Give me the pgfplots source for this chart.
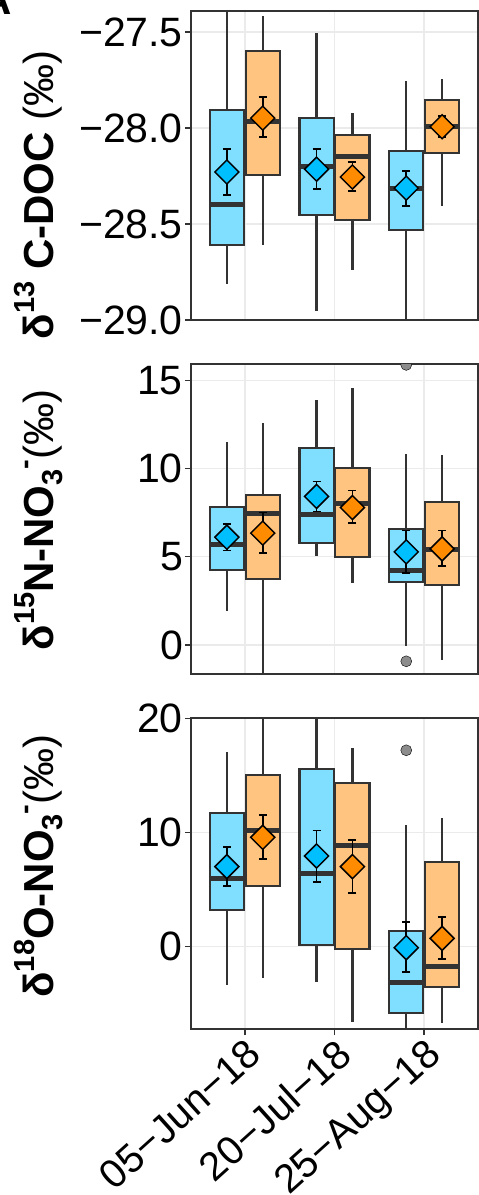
\documentclass[border=0pt]{standalone}
\usepackage{fontspec}
\setmainfont{Liberation Sans}
\usepackage{pgfplots}
\pgfplotsset{compat=1.18}
\usepgfplotslibrary{statistics}
\definecolor{boxgray}{HTML}{333333}
\definecolor{bluefill}{HTML}{80DFFF}
\definecolor{orangefill}{HTML}{FFC580}
\definecolor{bluemean}{HTML}{00BFFF}
\definecolor{orangemean}{HTML}{FF8C00}
\definecolor{gridc}{HTML}{EBEBEB}
\definecolor{outc}{HTML}{8C8C8C}
\newcommand{\sups}[1]{\raisebox{0.45em}{\fontsize{29}{30}\selectfont #1}}
\newcommand{\subs}[1]{\raisebox{-0.22em}{\fontsize{29}{30}\selectfont #1}}
\pgfplotsset{
  panel/.style={
    scale only axis, width=287pt, height=309pt,
    xmin=0.4, xmax=3.6, xtick={1,2,3},
    grid=major, major grid style={gridc, line width=1.4pt},
    axis line style={boxgray, line width=1.4pt},
    tick align=outside, tick pos=left,
    major tick length=6pt,
    tick style={boxgray, line width=1.4pt},
    ticklabel style={font=\fontsize{41}{44}\selectfont, text=black},
    yticklabel style={inner sep=2pt},
    clip marker paths=true,
    anchor=north west,
    boxplot/draw direction=y,
  },
  bb/.style={draw=boxgray, fill=bluefill, line width=2.2pt, solid, mark=none, boxplot/every median/.style={line width=5pt}},
  ob/.style={draw=boxgray, fill=orangefill, line width=2.2pt, solid, mark=none, boxplot/every median/.style={line width=5pt}},
  bm/.style={only marks, mark=square*, mark size=8.5pt, mark options={rotate=45, fill=bluemean, draw=black, line width=1.5pt},
    error bars/.cd, y dir=both, y explicit, error bar style={black, line width=1.8pt}, error mark=-, error mark options={rotate=90, black, line width=1.8pt, mark size=4pt}},
  om/.style={only marks, mark=square*, mark size=8.5pt, mark options={rotate=45, fill=orangemean, draw=black, line width=1.5pt},
    error bars/.cd, y dir=both, y explicit, error bar style={black, line width=1.8pt}, error mark=-, error mark options={rotate=90, black, line width=1.8pt, mark size=4pt}},
  outl/.style={only marks, mark=*, mark size=5.5pt, mark options={fill=outc, draw=none}},
}
\begin{document}
\begin{tikzpicture}
\useasboundingbox (0pt,0pt) rectangle (479pt,-1195pt);
\node[anchor=base east, inner sep=0pt, font=\bfseries\fontsize{42}{44}\selectfont] at (12.5pt,-14pt) {A};

% ---------- Panel 1: d13C-DOC ----------
\begin{axis}[panel, at={(191pt,-11pt)}, ymin=-29.0, ymax=-27.39,
  ytick={-29,-28.5,-28,-27.5}, yticklabels={−29.0,−28.5,−28.0,−27.5},
  xmajorticks=false, xticklabels={}]
\addplot[bb, boxplot prepared={draw position=0.8, lower whisker=-28.81, lower quartile=-28.608, median=-28.396, upper quartile=-27.905, upper whisker=-27.2, box extend=0.38, whisker extend=0}] coordinates {};
\addplot[ob, boxplot prepared={draw position=1.2, lower whisker=-28.608, lower quartile=-28.245, median=-27.964, upper quartile=-27.597, upper whisker=-27.417, box extend=0.38, whisker extend=0}] coordinates {};
\addplot[bb, boxplot prepared={draw position=1.8, lower whisker=-28.953, lower quartile=-28.453, median=-28.198, upper quartile=-27.948, upper whisker=-27.505, box extend=0.38, whisker extend=0}] coordinates {};
\addplot[ob, boxplot prepared={draw position=2.2, lower whisker=-28.74, lower quartile=-28.478, median=-28.146, upper quartile=-28.035, upper whisker=-27.922, box extend=0.38, whisker extend=0}] coordinates {};
\addplot[bb, boxplot prepared={draw position=2.8, lower whisker=-29.1, lower quartile=-28.531, median=-28.316, upper quartile=-28.118, upper whisker=-27.755, box extend=0.38, whisker extend=0}] coordinates {};
\addplot[ob, boxplot prepared={draw position=3.2, lower whisker=-28.406, lower quartile=-28.128, median=-27.993, upper quartile=-27.853, upper whisker=-27.745, box extend=0.38, whisker extend=0}] coordinates {};
\addplot[bm] coordinates {(0.8,-28.229) += (0,0.120) -= (0,0.120) (1.8,-28.214) += (0,0.105) -= (0,0.104) (2.8,-28.313) += (0,0.089) -= (0,0.093)};
\addplot[om] coordinates {(1.2,-27.948) += (0,0.109) -= (0,0.099) (2.2,-28.255) += (0,0.078) -= (0,0.073) (3.2,-27.993) += (0,0.056) -= (0,0.054)};
\end{axis}
\node[rotate=90, anchor=base, inner sep=0pt, font=\fontsize{42}{44}\selectfont] at (53pt,-195pt) {\textbf{δ\sups{13} C-DOC} (‰)};

% ---------- Panel 2: d15N-NO3 ----------
\begin{axis}[panel, at={(191pt,-364pt)}, height=310pt, ymin=-1.64, ymax=15.92,
  ytick={0,5,10,15}, yticklabels={0,5,10,15},
  xmajorticks=false, xticklabels={}]
\addplot[bb, boxplot prepared={draw position=0.8, lower whisker=1.91, lower quartile=4.26, median=5.68, upper quartile=7.81, upper whisker=11.49, box extend=0.38, whisker extend=0}] coordinates {};
\addplot[ob, boxplot prepared={draw position=1.2, lower whisker=-2.5, lower quartile=3.74, median=7.47, upper quartile=8.51, upper whisker=12.57, box extend=0.38, whisker extend=0}] coordinates {};
\addplot[bb, boxplot prepared={draw position=1.8, lower whisker=5.02, lower quartile=5.77, median=7.38, upper quartile=11.15, upper whisker=13.89, box extend=0.38, whisker extend=0}] coordinates {};
\addplot[ob, boxplot prepared={draw position=2.2, lower whisker=3.51, lower quartile=4.98, median=8.04, upper quartile=10.02, upper whisker=14.55, box extend=0.38, whisker extend=0}] coordinates {};
\addplot[bb, boxplot prepared={draw position=2.8, lower whisker=-0.08, lower quartile=3.57, median=4.23, upper quartile=6.58, upper whisker=10.81, box extend=0.38, whisker extend=0}] coordinates {};
\addplot[ob, boxplot prepared={draw position=3.2, lower whisker=-0.87, lower quartile=3.38, median=5.40, upper quartile=8.09, upper whisker=10.75, box extend=0.38, whisker extend=0}] coordinates {};
\addplot[outl] coordinates {(2.8,15.87) (2.8,-0.92)};
\addplot[bm] coordinates {(0.8,6.11) += (0,0.76) -= (0,0.75) (1.8,8.42) += (0,0.84) -= (0,0.85) (2.8,5.28) += (0,1.21) -= (0,1.20)};
\addplot[om] coordinates {(1.2,6.34) += (0,1.17) -= (0,1.13) (2.2,7.79) += (0,0.96) -= (0,0.88) (3.2,5.45) += (0,1.04) -= (0,0.96)};
\end{axis}
\node[rotate=90, anchor=base, inner sep=0pt, font=\fontsize{42}{44}\selectfont] at (53pt,-520pt) {\textbf{δ\sups{15}N-NO\subs{3}\sups{-}}(‰)};

% ---------- Panel 3: d18O-NO3 ----------
\begin{axis}[panel, at={(191pt,-718pt)}, height=311pt, ymin=-7.22, ymax=20.05,
  ytick={0,10,20}, yticklabels={0,10,20},
  xticklabels={05−Jun−18,20−Jul−18,25−Aug−18},
  xticklabel style={rotate=42, anchor=north east, inner sep=1pt, font=\fontsize{40}{42}\selectfont}]
\addplot[bb, boxplot prepared={draw position=0.8, lower whisker=-3.36, lower quartile=3.22, median=5.94, upper quartile=11.75, upper whisker=17.05, box extend=0.38, whisker extend=0}] coordinates {};
\addplot[ob, boxplot prepared={draw position=1.2, lower whisker=-2.72, lower quartile=5.32, median=10.15, upper quartile=15.03, upper whisker=21, box extend=0.38, whisker extend=0}] coordinates {};
\addplot[bb, boxplot prepared={draw position=1.8, lower whisker=-3.07, lower quartile=0.15, median=6.43, upper quartile=15.56, upper whisker=21, box extend=0.38, whisker extend=0}] coordinates {};
\addplot[ob, boxplot prepared={draw position=2.2, lower whisker=-6.64, lower quartile=-0.18, median=8.86, upper quartile=14.33, upper whisker=17.40, box extend=0.38, whisker extend=0}] coordinates {};
\addplot[bb, boxplot prepared={draw position=2.8, lower whisker=-8, lower quartile=-5.79, median=-3.16, upper quartile=1.40, upper whisker=10.67, box extend=0.38, whisker extend=0}] coordinates {};
\addplot[ob, boxplot prepared={draw position=3.2, lower whisker=-6.73, lower quartile=-3.51, median=-1.70, upper quartile=7.40, upper whisker=11.29, box extend=0.38, whisker extend=0}] coordinates {};
\addplot[outl] coordinates {(2.8,17.22)};
\addplot[bm] coordinates {(0.8,7.02) += (0,1.75) -= (0,1.70) (1.8,7.95) += (0,2.23) -= (0,2.28) (2.8,-0.09) += (0,2.22) -= (0,2.13)};
\addplot[om] coordinates {(1.2,9.59) += (0,1.93) -= (0,1.93) (2.2,7.02) += (0,2.34) -= (0,2.28) (3.2,0.73) += (0,1.84) -= (0,1.78)};
\end{axis}
\node[rotate=90, anchor=base, inner sep=0pt, font=\fontsize{42}{44}\selectfont] at (53pt,-866pt) {\textbf{δ\sups{18}O-NO\subs{3}\sups{-}}(‰)};
\end{tikzpicture}
\end{document}
